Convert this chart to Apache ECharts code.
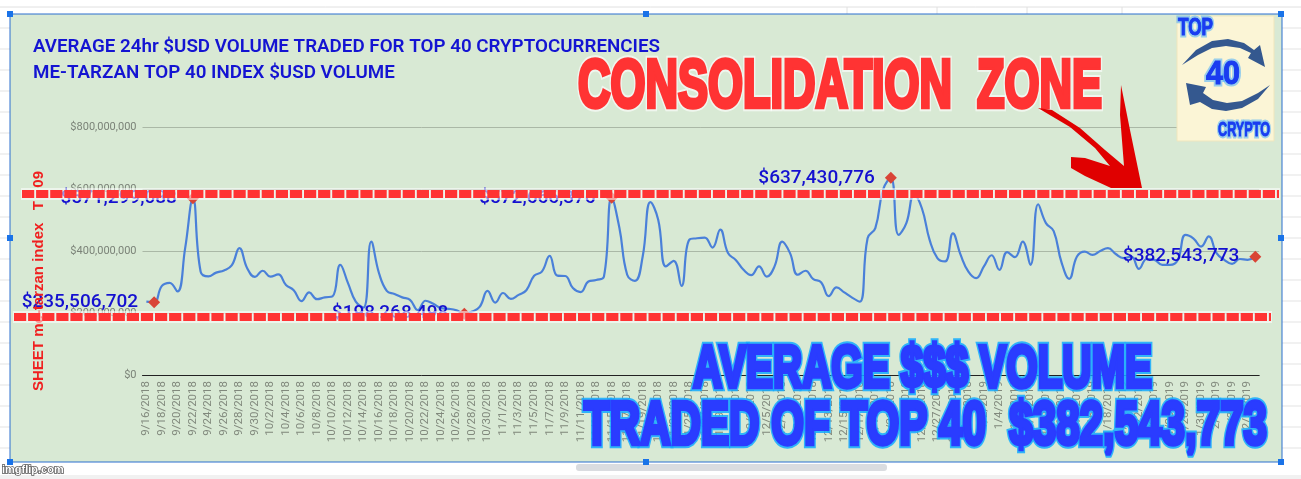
<!DOCTYPE html>
<html><head><meta charset="utf-8">
<style>html,body{margin:0;padding:0;background:#fff}#c{width:1301px;height:479px}</style>
<script src="https://cdn.jsdelivr.net/npm/echarts@6/dist/echarts.min.js"></script>
</head><body><div id="c"></div>
<script>
const categories = [
"9/16/2018","9/17/2018","9/18/2018","9/19/2018","9/20/2018","9/21/2018","9/22/2018","9/23/2018","9/24/2018","9/25/2018","9/26/2018","9/27/2018","9/28/2018","9/29/2018","9/30/2018",
"10/1/2018","10/2/2018","10/3/2018","10/4/2018","10/5/2018","10/6/2018","10/7/2018","10/8/2018","10/9/2018","10/10/2018","10/11/2018","10/12/2018","10/13/2018","10/14/2018","10/15/2018","10/16/2018","10/17/2018","10/18/2018","10/19/2018","10/20/2018","10/21/2018","10/22/2018","10/23/2018","10/24/2018","10/25/2018","10/26/2018","10/27/2018","10/28/2018","10/29/2018","10/30/2018","10/31/2018",
"11/1/2018","11/2/2018","11/3/2018","11/4/2018","11/5/2018","11/6/2018","11/7/2018","11/8/2018","11/9/2018","11/10/2018","11/11/2018","11/12/2018","11/13/2018","11/14/2018","11/15/2018","11/16/2018","11/17/2018","11/18/2018","11/19/2018","11/20/2018","11/21/2018","11/22/2018","11/23/2018","11/24/2018","11/25/2018","11/26/2018","11/27/2018","11/28/2018","11/29/2018","11/30/2018",
"12/1/2018","12/2/2018","12/3/2018","12/4/2018","12/5/2018","12/6/2018","12/7/2018","12/8/2018","12/9/2018","12/10/2018","12/11/2018","12/12/2018","12/13/2018","12/14/2018","12/15/2018","12/16/2018","12/17/2018","12/18/2018","12/19/2018","12/20/2018","12/21/2018","12/22/2018","12/23/2018","12/24/2018","12/25/2018","12/26/2018","12/27/2018","12/28/2018","12/29/2018","12/30/2018","12/31/2018",
"1/1/2019","1/2/2019","1/3/2019","1/4/2019","1/5/2019","1/6/2019","1/7/2019","1/8/2019","1/9/2019","1/10/2019","1/11/2019","1/12/2019","1/13/2019","1/14/2019","1/15/2019","1/16/2019","1/17/2019","1/18/2019","1/19/2019","1/20/2019","1/21/2019","1/22/2019","1/23/2019","1/24/2019","1/25/2019","1/26/2019","1/27/2019","1/28/2019","1/29/2019","1/30/2019","1/31/2019",
"2/1/2019","2/2/2019","2/3/2019","2/4/2019","2/5/2019","2/6/2019"];
// average volume, millions of USD
const volumesM = [
237,235.5,288,298,270,410,571.3,334,319,331,338,354,410,345,317,337,318,325,291,274,239,267,245,251,254,356,297,237,218,431,
329,272,262,251,243,210,240,230,216,214,209,198.3,205,221,272,234,265,246,259,274,321,334,385,321,320,281,268,302,307,318,
572.7,475,324,304,383,559,502,351,369,288,437,442,444,412,470,394,372,340,323,351,318,351,431,394,324,337,310,300,255,283,
267,250,237,442,475,599,637.4,453,491,583,539,437,378,367,458,388,334,313,351,387,340,397,381,431,356,552,491,465,365,311,
383,399,388,401,410,391,378,383,343,375,372,356,356,372,453,442,415,448,394,372,359,375,372,382.5];
const markDays = ["9/17/2018","9/22/2018","10/27/2018","11/15/2018","12/21/2018","2/6/2019"];
const markValues = [235506702,571299088,198268498,572666376,637430776,382543773];
const yTicks = {min:0,max:800000000,interval:200000000};
const titleLines = ["AVERAGE 24hr $USD VOLUME TRADED FOR TOP 40 CRYPTOCURRENCIES","ME-TARZAN TOP 40 INDEX $USD VOLUME"];
const money = v => '$' + Math.round(v).toString().replace(/\B(?=(\d{3})+$)/g, ',');

const RED='#ff3333', BLUE='#2a3cff';
const bg = [];
bg.push({type:'rect',z:-20,shape:{x:0,y:0,width:1301,height:479},style:{fill:'#fff'}});
[28,49,70,91,112,133,154,175,196,217,238,259,280,301,322,343,364,385,406,427,448].forEach(y=>{
  bg.push({type:'line',z:-19,shape:{x1:0,y1:y,x2:1301,y2:y},style:{stroke:'#e3e3e3',lineWidth:1}});
});
bg.push({type:'line',z:-19,shape:{x1:0,y1:7,x2:1301,y2:7},style:{stroke:'#e0e0e0',lineWidth:1}});
[847,937,1027,1122].forEach(x=>bg.push({type:'line',z:-19,shape:{x1:x,y1:7,x2:x,y2:14},style:{stroke:'#e0e0e0',lineWidth:1}}));
bg.push({type:'rect',z:-18,shape:{x:0,y:475,width:1301,height:4},style:{fill:'#f1f1f1'}});
bg.push({type:'rect',z:-18,shape:{x:576,y:464,width:311,height:7,r:3},style:{fill:'#dadce0'}});
bg.push({type:'rect',z:-15,shape:{x:10,y:14,width:1272,height:448},style:{fill:'#d8e9d4',stroke:'#2a6fcf',lineWidth:1}});

const fg = [];
function dashes(x1,x2,y){
  fg.push({type:'line',z:100,shape:{x1:x1-1,y1:y,x2:x2+1,y2:y},style:{stroke:'rgba(255,255,255,0.55)',lineWidth:12}});
  fg.push({type:'line',z:101,shape:{x1:x1,y1:y,x2:x2,y2:y},style:{stroke:RED,lineWidth:8,lineDash:[12.2,1.9]}});
}
dashes(22,1279,194); dashes(14,1271,317);

fg.push({type:'text',z:99,x:39,y:281,rotation:Math.PI/2,
  style:{text:'SHEET me-tarzan index   T - 09',fill:'#f02020',font:'bold 15px "Liberation Sans"',align:'center',verticalAlign:'middle'}});

// heavy poster lettering, squeezed horizontally to a given width
const measure = document.createElement('canvas').getContext('2d');
function fitText(t,x,y,w,size,fill,glow,blur,heavy,z,halo){
  const font='bold '+size+'px "Liberation Sans"';
  measure.font=font;
  const s=w/measure.measureText(t).width;
  if(halo){
    fg.push({type:'text',z:(z||105)-1,x:x,y:y,scaleX:s,scaleY:1,
      style:{text:t,fill:glow,stroke:halo,lineWidth:heavy+4,font:font,align:'left',verticalAlign:'middle',shadowColor:glow,shadowBlur:blur}});
  }
  fg.push({type:'text',z:z||105,x:x,y:y,scaleX:s,scaleY:1,
    style:{text:t,fill:fill,stroke:fill,lineWidth:heavy,font:font,align:'left',verticalAlign:'middle'}});
}
fitText('CONSOLIDATION  ZONE',578,88,524,68,RED,'#ffffff',7,4.5,105,'rgba(255,255,255,0.6)');
fitText('AVERAGE $$$ VOLUME',693,370,459,60,BLUE,'#00b4ff',10,4.5,105,'rgba(18,170,255,0.85)');
fitText('TRADED OF TOP 40  $382,543,773',584,427,683,62,BLUE,'#00b4ff',10,4.5,105,'rgba(18,170,255,0.85)');

// red hand-drawn arrow
fg.push({type:'polygon',z:106,shape:{points:[[1038,108],[1052,110],[1080,128],[1105,150],[1124,166],[1120,115],[1121,85],[1130,130],[1142,188],[1111,188],[1085,176],[1071,168],[1071,157],[1085,158],[1110,166],[1095,148],[1070,127]]},style:{fill:'#e00000'}});

// logo
fg.push({type:'rect',z:106,shape:{x:1177,y:16,width:97,height:125},style:{fill:'#fbf5d6',stroke:'#efe6bd',lineWidth:1}});
const arrowC='#34588f';
fg.push({type:'polygon',z:107,shape:{points:[[1182,65],[1196,50],[1212,41],[1228,39],[1244,43],[1254,50],[1260,45],[1265,67],[1248,58],[1251,53],[1240,48],[1226,46],[1212,48],[1198,55]]},style:{fill:arrowC}});
fg.push({type:'polygon',z:107,shape:{points:[[1270,85],[1258,99],[1242,108],[1226,111],[1212,109],[1200,102],[1190,105],[1186,83],[1206,87],[1203,93],[1213,100],[1227,103],[1242,101],[1258,93]]},style:{fill:arrowC}});
fitText('TOP',1178,28,35,24,'#1a3cf0','#38a8ff',3,1,109,'rgba(56,168,255,0.5)');
fitText('40',1206,75,34,34,'#1a3cf0','#38a8ff',4,1,109,'rgba(56,168,255,0.5)');
fitText('CRYPTO',1218,130,52,20,'#1a3cf0','#38a8ff',3,0.8,109,'rgba(56,168,255,0.5)');

// selection handles
[[10,14],[646,14],[1281,14],[10,238],[1281,238],[10,462],[646,462],[1281,462]].forEach(p=>{
  fg.push({type:'rect',z:110,shape:{x:p[0]-3,y:p[1]-3,width:6,height:6},style:{fill:'#1a73e8'}});
});
fg.push({type:'text',z:110,x:2,y:470,style:{text:'imgflip.com',fill:'#fff',stroke:'#555',lineWidth:1.5,font:'bold 11px "Liberation Sans"',verticalAlign:'middle'}});

const chart = echarts.init(document.getElementById('c'),null,{renderer:'canvas'});
chart.setOption({
  animation:false,
  backgroundColor:'#fff',
  title:{text:titleLines.join('\n'),left:33,top:34,padding:0,textStyle:{color:'#1414d2',fontFamily:'Roboto',fontWeight:600,fontSize:18.8,lineHeight:26}},
  grid:{left:142.5,right:41.8,top:127.5,bottom:104},
  xAxis:{type:'category',data:categories,boundaryGap:true,
    axisLine:{lineStyle:{color:'#222',width:1}},axisTick:{show:false},
    axisLabel:{interval:1,rotate:90,margin:6,color:'#80887c',fontFamily:'Roboto',fontSize:11.5}},
  yAxis:{type:'value',min:yTicks.min,max:yTicks.max,interval:yTicks.interval,
    axisLine:{show:false},axisTick:{show:false},
    splitLine:{lineStyle:{color:'#aab8a6',width:1}},
    axisLabel:{margin:6,color:'#7b8378',fontFamily:'Roboto',fontSize:11,formatter:v=>money(v)}},
  series:[
    {type:'line',data:volumesM.map(v=>v*1e6),symbol:'none',smooth:0.45,z:3,
      lineStyle:{color:'#4a80d9',width:2.2}},
    {type:'scatter',data:markDays.map((d,i)=>[d,markValues[i]]),symbol:'diamond',symbolSize:12,z:4,
      itemStyle:{color:'#d94436',opacity:1},
      label:{show:true,position:'left',distance:10,color:'#1410d0',fontFamily:'Roboto',fontWeight:500,fontSize:19,
        formatter:p=>money(p.value[1])}}
  ],
  graphic:{elements:bg.concat(fg)}
});
</script></body></html>
